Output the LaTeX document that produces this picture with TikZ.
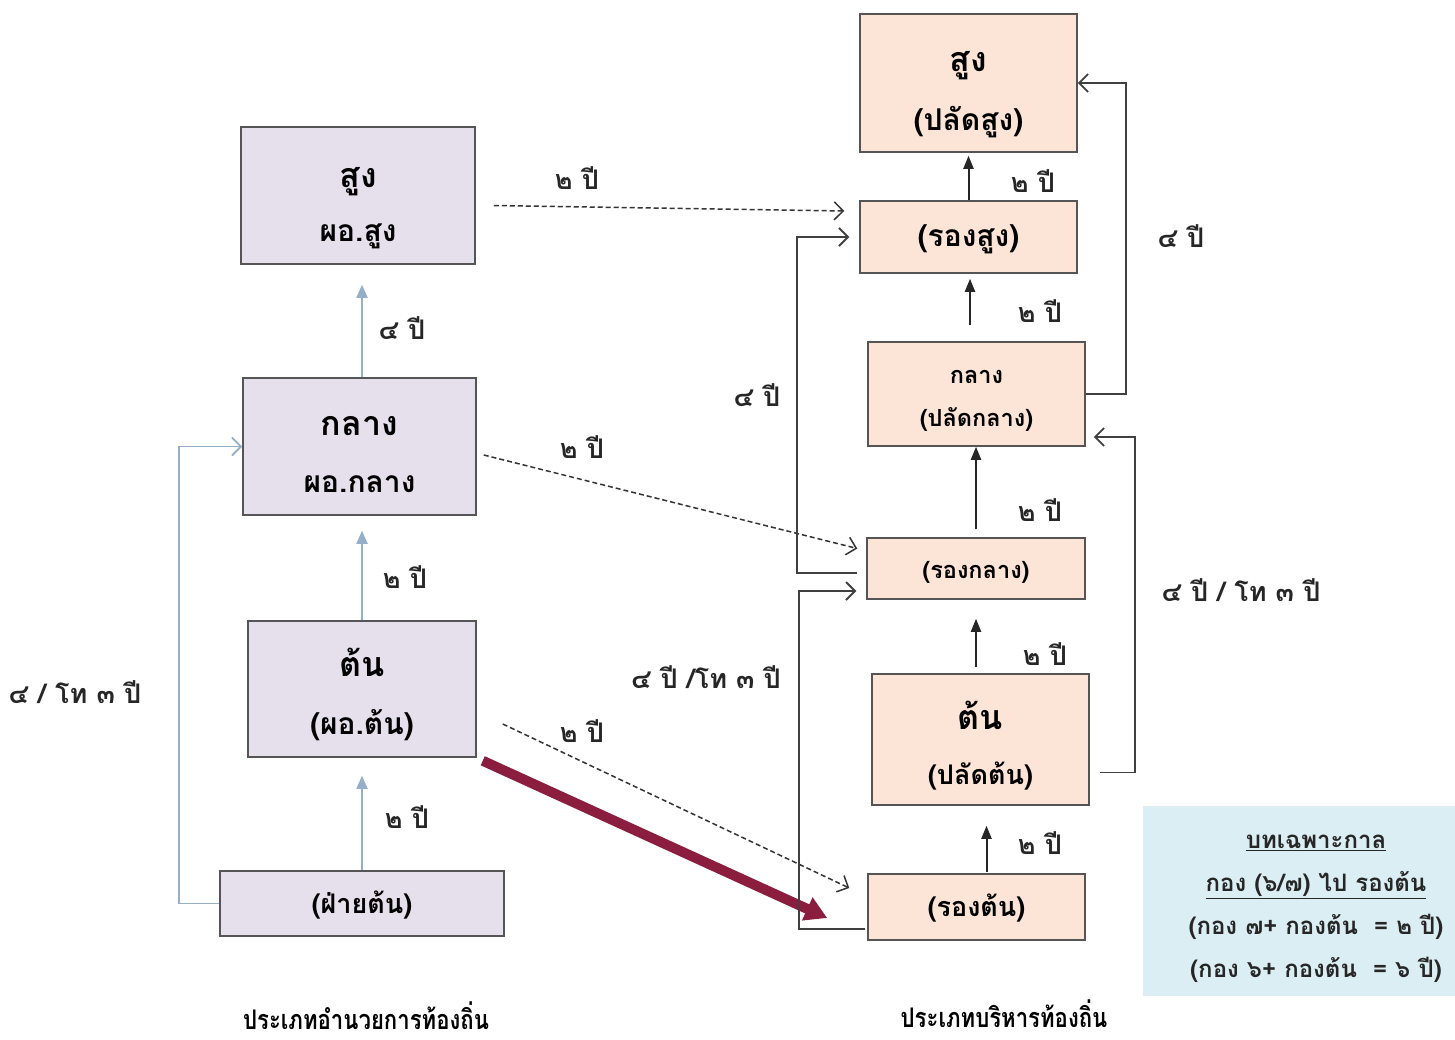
\documentclass[tikz,border=0pt]{standalone}
\usepackage{fontspec}
\setmainfont{Loma}[Script=Thai]
\newfontfamily\thcap[Script=Thai,FakeStretch=0.82]{Loma}
\usetikzlibrary{arrows.meta,positioning,calc}
\definecolor{boxlav}{HTML}{E6E0EC}
\definecolor{boxpeach}{HTML}{FCE4D6}
\definecolor{notebg}{HTML}{DBEEF3}
\definecolor{arrblue}{HTML}{95AFC8}
\definecolor{arrred}{HTML}{8B1D3F}
\definecolor{edgegray}{HTML}{555555}
\newcommand\fsA{\fontsize{34}{40}\selectfont}
\newcommand\fsB{\fontsize{30}{35}\selectfont}
\newcommand\fsC{\fontsize{27}{32}\selectfont}
\newcommand\fsD{\fontsize{23.5}{28}\selectfont}
\newcommand\fsL{\fontsize{27}{31}\selectfont}

\begin{document}
\begin{tikzpicture}[x=1pt,y=-1pt,
  lbox/.style={draw=edgegray,line width=1.5pt,fill=boxlav,inner sep=0pt,font=\bfseries,text height=21pt,text depth=2pt},
  rbox/.style={draw=edgegray,line width=1.5pt,fill=boxpeach,inner sep=0pt,font=\bfseries,text height=21pt,text depth=2pt},
  ttop/.style={anchor=base,inner sep=0pt,font=\bfseries\fsA},
  tbot/.style={anchor=base,inner sep=0pt,font=\bfseries\fsB},
  uparr/.style={draw=arrblue,line width=1.8pt,-{Triangle[length=13pt,width=11pt]}},
  stepup/.style={draw=black!85,line width=2pt,-{Triangle[length=13pt,width=10pt]}},
  elbow/.style={draw=black!75,line width=1.8pt,-{Straight Barb[length=9pt,width=18pt]}},
  dasharr/.style={draw=black!80,line width=1.5pt,dash pattern=on 5pt off 3pt,-{Straight Barb[length=9pt,width=18pt]}},
  lbl/.style={inner sep=0pt,font=\bfseries\fsL,text=black!85}]
  \useasboundingbox (0,0) rectangle (1455,1039);

  % ประเภทอำนวยการท้องถิ่น
  \node[lbox,minimum width=234pt,minimum height=137pt] (Lsung) at (358,195.5) {};
  \node[ttop] (Lsung-a) at ($(Lsung.center)+(0,-8)$) {สูง};
  \node[tbot] (Lsung-b) at ($(Lsung.center)+(0,46)$) {ผอ.สูง};
  \node[lbox,minimum width=233pt,minimum height=137pt] (Lklang) at (359.5,446.5) {};
  \node[ttop] (Lklang-a) at ($(Lklang.center)+(0,-11)$) {กลาง};
  \node[tbot] (Lklang-b) at ($(Lklang.center)+(0,46)$) {ผอ.กลาง};
  \node[lbox,minimum width=228pt,minimum height=136pt] (Lton) at (362,689) {};
  \node[ttop] (Lton-a) at ($(Lton.center)+(0,-13)$) {ต้น};
  \node[tbot] (Lton-b) at ($(Lton.center)+(0,45)$) {(ผอ.ต้น)};
  \node[lbox,minimum width=284pt,minimum height=65pt] (Lfai) at (362,903.5) {\fsC (ฝ่ายต้น)};

  % ประเภทบริหารท้องถิ่น
  \node[rbox,minimum width=217pt,minimum height=138pt] (Rsung) at (968.5,83) {};
  \node[ttop] (Rsung-a) at ($(Rsung.center)+(0,-12)$) {สูง};
  \node[tbot] (Rsung-b) at ($(Rsung.center)+(0,47)$) {(ปลัดสูง)};
  \node[rbox,minimum width=217pt,minimum height=72pt] (Rrongsung) at (968.5,237) {\fsB (รองสูง)};
  \node[rbox,minimum width=217pt,minimum height=104pt] (Rklang) at (976.5,394) {};
  \node[tbot,font=\bfseries\fsD] (Rklang-a) at ($(Rklang.center)+(0,-11)$) {กลาง};
  \node[tbot,font=\bfseries\fsD] (Rklang-b) at ($(Rklang.center)+(0,32)$) {(ปลัดกลาง)};
  \node[rbox,minimum width=218pt,minimum height=61pt] (Rrongklang) at (976,568.5) {\fsD (รองกลาง)};
  \node[rbox,minimum width=217pt,minimum height=131pt] (Rton) at (980.5,739.5) {};
  \node[ttop] (Rton-a) at ($(Rton.center)+(0,-10)$) {ต้น};
  \node[tbot,font=\bfseries\fsC] (Rton-b) at ($(Rton.center)+(0,45)$) {(ปลัดต้น)};
  \node[rbox,minimum width=217pt,minimum height=66pt] (Rrongton) at (976.5,907) {\fsC (รองต้น)};

  % บทเฉพาะกาล
  \node[fill=notebg,minimum width=312pt,minimum height=190pt] (note) at (1299,901) {};
  \node[align=center,font=\bfseries\fontsize{24}{29}\selectfont,inner sep=0pt,text=black!85] (notetxt) at (1316,909)
    {\underline{บทเฉพาะกาล}\\[14pt]\underline{กอง (๖/๗) ไป รองต้น}\\[14pt](กอง ๗+ กองต้น \ = ๒ ปี)\\[14pt](กอง ๖+ กองต้น \ = ๖ ปี)};

  % ลูกศรฝั่งซ้าย
  \draw[uparr,shorten >=18pt] (Lfai.north) -- (Lfai.north |- Lton.south);
  \draw[uparr,shorten >=15pt] (Lton.north) -- (Lton.north |- Lklang.south);
  \draw[uparr,shorten >=20pt] (Lklang.north -| Lton.north) -- (Lton.north |- Lsung.south);
  \draw[elbow,draw=arrblue] (Lfai.west) -- ++(-40,0) |- (Lklang.west);

  % ลูกศรเส้นประข้ามประเภท
  \draw[dasharr] ([xshift=18pt,yshift=-10pt]Lsung.east) -- ([xshift=-15pt,yshift=26pt]Rrongsung.west);
  \draw[dasharr] ([xshift=7pt,yshift=-8.5pt]Lklang.east) -- ([xshift=-9pt,yshift=20pt]Rrongklang.west);
  \draw[dasharr] ([xshift=26pt,yshift=-35pt]Lton.east) -- ([xshift=-18pt,yshift=19pt]Rrongton.west);
  \draw[arrred,line width=10pt,-{Triangle[length=22pt,width=24pt]}] ([xshift=6pt,yshift=-3pt]Lton.south east) -- ([xshift=-40pt,yshift=-11pt]Rrongton.west);

  % ลูกศรฝั่งขวา
  \draw[stepup,shorten >=20pt] ([xshift=10pt,yshift=1pt]Rrongton.north) -- ([xshift=10pt]Rrongton.north |- Rton.south);
  \draw[stepup,shorten <=6pt,shorten >=19pt] ([xshift=-4.5pt]Rton.north) -- ([xshift=-4.5pt]Rton.north |- Rrongklang.south);
  \draw[stepup,shorten <=8pt] (Rrongklang.north) -- (Rrongklang.north |- Rklang.south);
  \draw[stepup,shorten <=16pt,shorten >=5pt] ([xshift=-6.5pt]Rklang.north) -- ([xshift=-6.5pt]Rklang.north |- Rrongsung.south);
  \draw[stepup,shorten >=3pt] (Rrongsung.north) -- (Rsung.south);
  \draw[elbow] (Rklang.east) -- ++(40,0) |- (Rsung.east);
  \draw[elbow] ([xshift=10pt,yshift=-33pt]Rton.east) -- ++(35,0) |- ([xshift=8pt,yshift=-43pt]Rklang.east);
  \draw[elbow] ([xshift=-9pt,yshift=-4.5pt]Rrongklang.west) -- ++(-60,0) |- ([xshift=-10pt]Rrongsung.west);
  \draw[elbow] ([xshift=-2pt,yshift=-22pt]Rrongton.west) -- ++(-66,0) |- ([xshift=-10pt,yshift=-22.5pt]Rrongklang.west);

  % ป้ายระยะเวลา
  \node[lbl] (t1) at (407,817) {๒ ปี};
  \node[lbl] (t2) at (405,577) {๒ ปี};
  \node[lbl] (t3) at (402,328) {๔ ปี};
  \node[lbl] (t4) at (75,692) {๔ / โท ๓ ปี};
  \node[lbl] (t5) at (577,178) {๒ ปี};
  \node[lbl] (t6) at (582,447) {๒ ปี};
  \node[lbl] (t7) at (582,731) {๒ ปี};
  \node[lbl] (t8) at (1040,843) {๒ ปี};
  \node[lbl] (t9) at (1045,654) {๒ ปี};
  \node[lbl] (t10) at (1040,510) {๒ ปี};
  \node[lbl] (t11) at (1040,311) {๒ ปี};
  \node[lbl] (t12) at (1033,181) {๒ ปี};
  \node[lbl] (t13) at (1181,236) {๔ ปี};
  \node[lbl] (t14) at (1241,590) {๔ ปี / โท ๓ ปี};
  \node[lbl] (t15) at (757,395) {๔ ปี};
  \node[lbl] (t16) at (706,677) {๔ ปี /โท ๓ ปี};

  % ชื่อประเภท
  \node[anchor=base,font=\thcap\bfseries\fontsize{27}{31}\selectfont,inner sep=0pt] (capL) at (366,1029) {ประเภทอำนวยการท้องถิ่น};
  \node[anchor=base,font=\thcap\bfseries\fontsize{27}{31}\selectfont,inner sep=0pt] (capR) at (1004,1027) {ประเภทบริหารท้องถิ่น};
\end{tikzpicture}
\end{document}
